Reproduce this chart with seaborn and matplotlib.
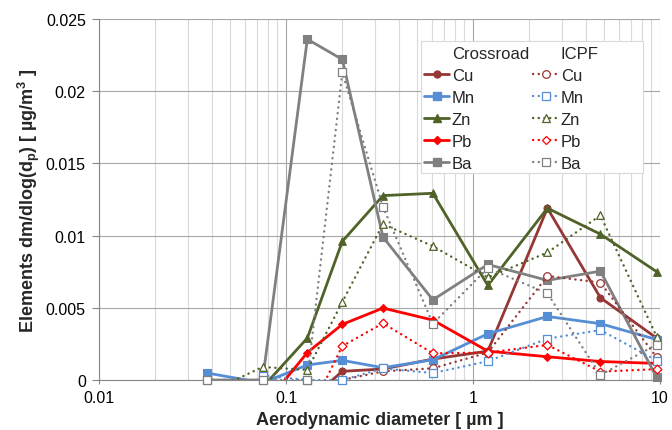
import numpy as np
import matplotlib
matplotlib.use("Agg")
import matplotlib.pyplot as plt
from matplotlib.lines import Line2D
from matplotlib.patches import Rectangle
from matplotlib.ticker import LogLocator, FuncFormatter, MultipleLocator
import seaborn as sns

nan = np.nan

# Impactor stage diameters (µm)
diameter = [0.038, 0.075, 0.13, 0.2, 0.33, 0.61, 1.2, 2.5, 4.8, 9.6]

# Crossroad site
cu_crossroad = [nan, nan, -0.0015, 0.0006, 0.00076, 0.00145, 0.0020, 0.0119, 0.0057, 0.0029]
mn_crossroad = [0.00048, -0.0002, 0.00104, 0.00136, 0.00085, 0.0014, 0.0032, 0.0044, 0.0039, 0.0028]
zn_crossroad = [nan, -0.0005, 0.0029, 0.0096, 0.01277, 0.01293, 0.00655, 0.0119, 0.0101, 0.0075]
pb_crossroad = [nan, -0.0019, 0.0019, 0.00385, 0.00498, 0.00415, 0.0020, 0.00161, 0.00128, 0.00115]
ba_crossroad = [0.0, 0.0, 0.0236, 0.0222, 0.0099, 0.00555, 0.0080, 0.0069, 0.00754, 0.00018]

# ICPF site
cu_icpf = [nan, nan, -0.0010, 0.0, 0.0006, 0.00081, 0.0019, 0.0072, 0.00675, 0.00157]
mn_icpf = [nan, 0.0003, 0.0, 0.0, 0.0008, 0.00048, 0.0013, 0.00286, 0.00346, 0.00135]
zn_icpf = [-0.0009, 0.0009, 0.0007, 0.0054, 0.0108, 0.00927, 0.0071, 0.00883, 0.0114, 0.0030]
pb_icpf = [nan, nan, -0.0026, 0.00235, 0.00393, 0.00185, 0.0019, 0.00243, 0.00058, 0.00075]
ba_icpf = [0.0, 0.0, 0.0, 0.0213, 0.0120, 0.0039, 0.00775, 0.0060, 0.00035, 0.00245]

elements = ["Cu", "Mn", "Zn", "Pb", "Ba"]
colors = {"Cu": "#953735", "Mn": "#558ed5", "Zn": "#4f6228", "Pb": "#ff0000", "Ba": "#808080"}
markers = {"Cu": "o", "Mn": "s", "Zn": "^", "Pb": "D", "Ba": "s"}
msize = {"Cu": 5.0, "Mn": 5.5, "Zn": 5.5, "Pb": 4.0, "Ba": 5.5}
osize = {"Cu": 5.5, "Mn": 6.0, "Zn": 5.5, "Pb": 4.5, "Ba": 6.0}

crossroad = {"Cu": cu_crossroad, "Mn": mn_crossroad, "Zn": zn_crossroad,
             "Pb": pb_crossroad, "Ba": ba_crossroad}
icpf = {"Cu": cu_icpf, "Mn": mn_icpf, "Zn": zn_icpf, "Pb": pb_icpf, "Ba": ba_icpf}

sns.set_theme(style="white")
plt.rcParams["font.family"] = ["Liberation Sans", "DejaVu Sans"]
plt.rcParams["mathtext.fontset"] = "custom"
plt.rcParams["mathtext.rm"] = "Liberation Sans"
plt.rcParams["mathtext.bf"] = "Liberation Sans:bold"

fig = plt.figure(figsize=(6.72, 4.31), dpi=100)
ax = fig.add_axes([99 / 672, 50 / 431, 561 / 672, 361 / 431])

# round dots for the ICPF series
dots = (0, (0.1, 2.3))
x = np.array(diameter)


def draw(series, filled, z):
    for el in elements:
        y = np.array(series[el], dtype=float)
        ok = ~np.isnan(y)
        sns.lineplot(x=x[ok], y=y[ok], ax=ax, color=colors[el],
                     lw=2.0 if filled else 1.7,
                     linestyle="-" if filled else dots,
                     estimator=None, sort=False, zorder=z,
                     solid_joinstyle="round", dash_capstyle="round")
        vis = ok & (y >= 0)
        if filled:
            sns.scatterplot(x=x[vis], y=y[vis], ax=ax, marker=markers[el],
                            s=msize[el] ** 2, color=colors[el], edgecolor=colors[el],
                            linewidth=0.8, clip_on=False, zorder=z + 0.5)
        else:
            sns.scatterplot(x=x[vis], y=y[vis], ax=ax, marker=markers[el],
                            s=osize[el] ** 2, color="white", edgecolor=colors[el],
                            linewidth=0.9, clip_on=False, zorder=z + 0.5)


draw(crossroad, True, 3)
draw(icpf, False, 4)

ax.set_xscale("log")
ax.set_xlim(0.01, 10)
ax.set_ylim(0, 0.025)
ax.xaxis.set_major_locator(LogLocator(base=10))
ax.xaxis.set_minor_locator(LogLocator(base=10, subs=np.arange(2, 10)))
ax.xaxis.set_major_formatter(FuncFormatter(lambda v, p: f"{v:g}"))
ax.yaxis.set_major_locator(MultipleLocator(0.005))
ax.yaxis.set_major_formatter(FuncFormatter(lambda v, p: f"{v:g}"))

ax.set_axisbelow(True)
ax.grid(which="major", axis="both", color="#a6a6a6", lw=0.8)
ax.grid(which="minor", axis="x", color="#d9d9d9", lw=0.8)

for s in ("top", "right"):
    ax.spines[s].set_visible(False)
for s in ("left", "bottom"):
    ax.spines[s].set_color("#868686")
    ax.spines[s].set_linewidth(0.8)

ax.tick_params(axis="both", which="major", width=0.8, color="#868686",
               labelsize=11.5, labelcolor="black", direction="out",
               bottom=True, left=True)
ax.tick_params(axis="y", which="major", length=5, pad=4.5)
ax.tick_params(axis="x", which="major", length=3, pad=4.5)
ax.tick_params(axis="x", which="minor", length=0, bottom=False)

ax.set_xlabel("Aerodynamic diameter [ µm ]", fontsize=13, fontweight="bold", labelpad=4)
ax.set_ylabel(r"Elements dm/dlog(d$_\mathbf{p}$) [ µg/m$^\mathbf{3}$ ]",
              fontsize=13, fontweight="bold", labelpad=3)

# Legend: one column per site, each headed by the site name
blank = Line2D([], [], color="none")
handles = [blank]
labels = ["Crossroad"]
for el in elements:
    handles.append(Line2D([], [], color=colors[el], lw=2.0, marker=markers[el],
                          ms=msize[el], mfc=colors[el], mec=colors[el]))
    labels.append(el)
handles.append(blank)
labels.append("ICPF")
for el in elements:
    handles.append(Line2D([], [], color=colors[el], lw=1.7, ls=dots, marker=markers[el],
                          ms=osize[el], mfc="white", mec=colors[el], mew=0.9,
                          dash_capstyle="round"))
    labels.append(el)

frame = Rectangle((0.574, 0.573), 0.396, 0.366, transform=ax.transAxes,
                  facecolor="white", edgecolor="#d9d9d9", lw=0.8, zorder=9)
ax.add_patch(frame)
leg = ax.legend(handles, labels, ncol=2, loc="upper left",
                bbox_to_anchor=(0.574, 0.935), frameon=False, fontsize=12,
                handlelength=1.5, handletextpad=0.15, columnspacing=0.25,
                labelspacing=0.42, borderpad=0.2, borderaxespad=0.0, numpoints=1)
leg.set_zorder(10)

fig.savefig("out.png", dpi=100)
